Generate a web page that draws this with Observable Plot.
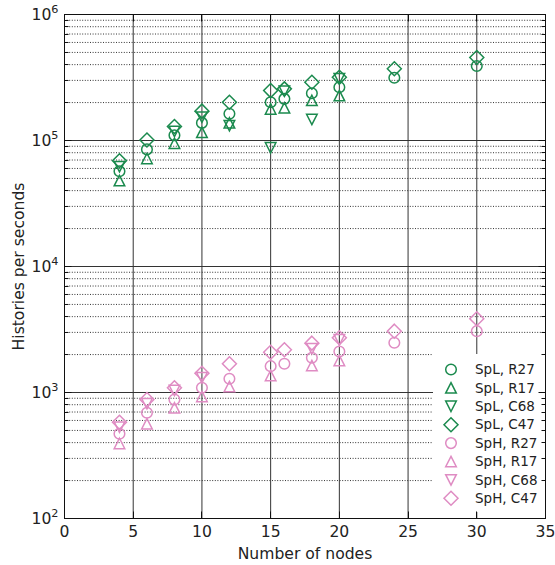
<!DOCTYPE html>
<html><head><meta charset="utf-8">
<script src="https://cdn.jsdelivr.net/npm/d3@7"></script>
<script src="https://cdn.jsdelivr.net/npm/@observablehq/plot@0.6"></script>
<style>body{margin:0;background:#fff;}</style>
</head><body><div id="chart"></div>
<script>
// ---- data ----
const seriesNames = ["SpL, R27","SpL, R17","SpL, C68","SpL, C47","SpH, R27","SpH, R17","SpH, C68","SpH, C47"];
const seriesGroup = ["SpL","SpL","SpL","SpL","SpH","SpH","SpH","SpH"];
const seriesShape = ["circle","up","down","diamond","circle","up","down","diamond"];

const spL_R27_x = [4,6,8,10,12,15,16,18,20,24,30];
const spL_R27_y = [57000,85000,110000,138000,163000,201000,214000,237000,265000,315000,390000];
const spL_R17_x = [4,6,8,10,12,15,16,18,20];
const spL_R17_y = [48000,72000,95000,116000,138000,178000,182000,208000,227000];
const spL_C68_x = [4,8,10,12,15,16,18,20];
const spL_C68_y = [62000,118000,153000,131000,87500,246000,147000,310000];
const spL_C47_x = [4,6,8,10,12,15,16,18,20,24,30];
const spL_C47_y = [69000,101000,129000,171000,201000,249000,257000,290000,318000,371000,456000];

const spH_R27_x = [4,6,8,10,12,15,16,18,20,24,30];
const spH_R27_y = [470,690,880,1090,1285,1618,1690,1885,2115,2479,3067];
const spH_R17_x = [4,6,8,10,12,15,18,20];
const spH_R17_y = [394,565,756,930,1116,1364,1637,1795];
const spH_C68_x = [4,6,8,10,18,20];
const spH_C68_y = [531,814,1037,1308,2222,2620];
const spH_C47_x = [4,6,8,10,12,15,16,18,20,24,30];
const spH_C47_y = [581,880,1090,1423,1690,2089,2183,2464,2718,3067,3846];

const seriesX = [spL_R27_x,spL_R17_x,spL_C68_x,spL_C47_x,spH_R27_x,spH_R17_x,spH_C68_x,spH_C47_x];
const seriesY = [spL_R27_y,spL_R17_y,spL_C68_y,spL_C47_y,spH_R27_y,spH_R17_y,spH_C68_y,spH_C47_y];

const xTicks = [0,5,10,15,20,25,30,35];
const yTicks = [1e2,1e3,1e4,1e5,1e6];
const xLabel = "Number of nodes";
const yLabel = "Histories per seconds";

// ---- style ----
const colors = {SpL: "#1b8a4e", SpH: "#df8cc3"};
const symbols = {
  circle: {draw(ctx, size){ const r = Math.sqrt(size/Math.PI); ctx.moveTo(r,0); ctx.arc(0,0,r,0,2*Math.PI); }},
  up: {draw(ctx, size){ const r = Math.sqrt(size/Math.PI); const h = r*0.98; ctx.moveTo(0,-h); ctx.lineTo(r,h); ctx.lineTo(-r,h); ctx.closePath(); }},
  down: {draw(ctx, size){ const r = Math.sqrt(size/Math.PI); const h = r*0.98; ctx.moveTo(0,h); ctx.lineTo(r,-h); ctx.lineTo(-r,-h); ctx.closePath(); }},
  diamond: {draw(ctx, size){ const r = Math.sqrt(size/Math.PI)*1.32; ctx.moveTo(0,-r); ctx.lineTo(r,0); ctx.lineTo(0,r); ctx.lineTo(-r,0); ctx.closePath(); }}
};
const R = 5.3;

const data = seriesNames.flatMap((name, i) => seriesX[i].map((x, j) => ({
  name, group: seriesGroup[i], shape: seriesShape[i], x, y: seriesY[i][j]
})));

const minorY = [];
for (let e = 2; e < 6; e++) for (let m = 2; m <= 9; m++) minorY.push(m * 10 ** e);
const majorXGrid = xTicks.filter(v => v > 0 && v < 35);
const majorYGrid = yTicks.filter(v => v > 1e2 && v < 1e6);

const sup = {"0":"⁰","1":"¹","2":"²","3":"³","4":"⁴","5":"⁵","6":"⁶","7":"⁷","8":"⁸","9":"⁹"};
const fmtY = v => "10" + String(Math.round(Math.log10(v))).split("").map(c => sup[c]).join("");

const plot = Plot.plot({
  width: 555, height: 565,
  marginLeft: 64, marginRight: 10, marginTop: 14, marginBottom: 47,
  style: {fontFamily: "DejaVu Sans, sans-serif", fontSize: "15.6px", background: "white", color: "#222"},
  x: {domain: [0, 35]},
  y: {type: "log", domain: [1e2, 1e6]},
  marks: [
    Plot.ruleY(minorY, {stroke: "#333", strokeWidth: 1, strokeDasharray: "1,1.6"}),
    Plot.ruleY(majorYGrid, {stroke: "#333", strokeWidth: 1}),
    Plot.ruleX(majorXGrid, {stroke: "#333", strokeWidth: 1}),
    ...["circle","up","down","diamond"].flatMap(sh => ["SpL","SpH"].map(g =>
      Plot.dot(data.filter(d => d.shape === sh && d.group === g), {
        x: "x", y: "y", r: R, symbol: symbols[sh], stroke: colors[g], strokeWidth: 1.5, fill: "none"
      }))),
    Plot.axisX({ticks: xTicks, tickSize: 0, tickPadding: 7, label: xLabel, labelAnchor: "center", labelArrow: "none", labelOffset: 40}),
    Plot.axisY({ticks: yTicks, tickSize: 0, tickPadding: 6, tickFormat: fmtY, label: yLabel, labelAnchor: "center", labelArrow: "none", labelOffset: 52})
  ]
});
document.getElementById("chart").appendChild(plot);

const svg = d3.select(plot);
// superscripts for y tick labels
svg.selectAll('g[aria-label="y-axis tick label"] text').each(function() {
  const t = d3.select(this);
  const s = t.text();
  if (!s.startsWith("10")) return;
  const exp = s.slice(2).split("").map(c => Object.keys(sup).find(k => sup[k] === c)).join("");
  t.text(null);
  t.append("tspan").text("10");
  t.append("tspan").attr("dy", "-0.55em").attr("font-size", "0.72em").text(exp);
});

// legend on top of grid
const sx = plot.scale("x"), sy = plot.scale("y");
const X0 = sx.apply(0), X1 = sx.apply(35), Y0 = sy.apply(1e2), Y1 = sy.apply(1e6);
const leg = svg.append("g").attr("aria-label", "legend").attr("text-anchor", "start");
const lx0 = 433, ly0 = 354, ly1 = 512;
leg.append("rect").attr("x", lx0).attr("y", ly0).attr("width", X1 - lx0).attr("height", ly1 - ly0)
  .attr("fill", "#ffffff").attr("stroke", "none").style("fill", "#ffffff");
seriesNames.forEach((name, i) => {
  const yy = 369.5 + i * 18.4;
  leg.append("path")
    .attr("transform", `translate(451,${yy})`)
    .attr("d", d3.symbol(symbols[seriesShape[i]], R * R * Math.PI)())
    .attr("fill", "none").attr("stroke", colors[seriesGroup[i]]).attr("stroke-width", 1.5);
  leg.append("text").attr("x", 475).attr("y", yy).attr("dy", "0.35em")
    .attr("font-size", 13.5).attr("fill", "#222").text(name);
});

// frame and inward ticks
const tk = svg.append("g").attr("stroke", "#111").attr("stroke-width", 1).attr("fill", "none").attr("transform", "translate(0.5,0.5)");
tk.append("rect").attr("x", X0).attr("y", Y1).attr("width", X1 - X0).attr("height", Y0 - Y1);
majorXGrid.forEach(v => {
  const px = Math.round(sx.apply(v));
  tk.append("line").attr("x1", px).attr("x2", px).attr("y1", Y0).attr("y2", Y0 - 7);
  tk.append("line").attr("x1", px).attr("x2", px).attr("y1", Y1).attr("y2", Y1 + 7);
});
majorYGrid.forEach(v => {
  const py = Math.round(sy.apply(v));
  tk.append("line").attr("x1", X0).attr("x2", X0 + 7).attr("y1", py).attr("y2", py);
  tk.append("line").attr("x1", X1).attr("x2", X1 - 7).attr("y1", py).attr("y2", py);
});
minorY.forEach(v => {
  const py = Math.round(sy.apply(v));
  tk.append("line").attr("x1", X0).attr("x2", X0 + 4).attr("y1", py).attr("y2", py);
  tk.append("line").attr("x1", X1).attr("x2", X1 - 4).attr("y1", py).attr("y2", py);
});
</script>
</body></html>
